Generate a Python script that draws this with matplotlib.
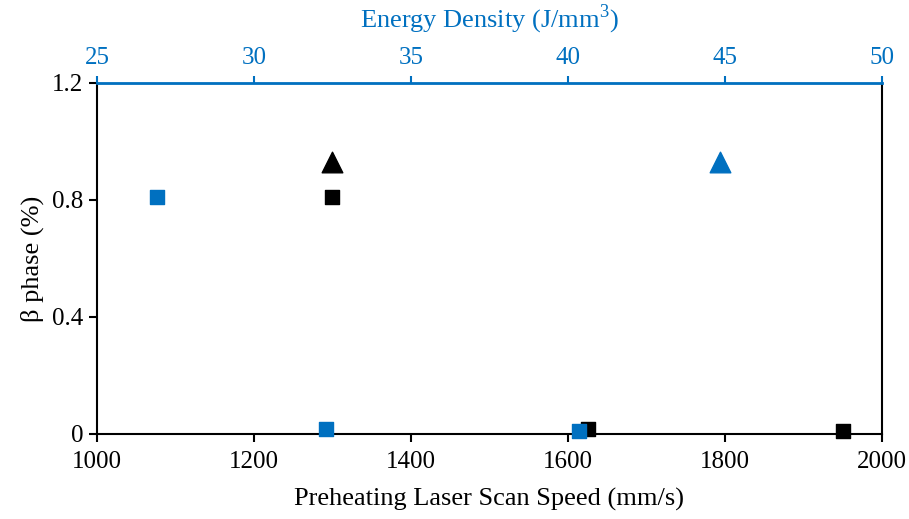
import matplotlib
matplotlib.use("Agg")
import matplotlib.pyplot as plt

plt.rcParams['font.family'] = ['Liberation Serif', 'DejaVu Serif']
plt.rcParams['font.size'] = 18
plt.rcParams['mathtext.fontset'] = 'custom'
plt.rcParams['mathtext.rm'] = 'Liberation Serif'

BLUE = '#0070C0'

# black series: preheating laser scan speed (mm/s)
speed_sq = [1300, 1625, 1950]
beta_speed_sq = [0.81, 0.017, 0.01]
speed_tri = [1300]
beta_speed_tri = [0.93]

# blue series: energy density (J/mm3)
energy_sq = [26.9, 32.3, 40.35]
beta_energy_sq = [0.81, 0.017, 0.01]
energy_tri = [44.85]
beta_energy_tri = [0.93]

fig = plt.figure(figsize=(9.09, 5.19), dpi=100)
ax = fig.add_axes([0.1067, 0.1638, 0.8636, 0.6763])

ax.scatter(speed_sq, beta_speed_sq, marker='s', s=110, color='black', clip_on=False, zorder=3)
ax.scatter(speed_tri, beta_speed_tri, marker='^', s=220, color='black', clip_on=False, zorder=3)
ax.set_xlim(1000, 2000)
ax.set_ylim(0, 1.2)
ax.set_xticks([1000, 1200, 1400, 1600, 1800, 2000])
ax.set_yticks([0, 0.4, 0.8, 1.2])
ax.set_yticklabels(['0', '0.4', '0.8', '1.2'])
ax.set_xlabel('Preheating Laser Scan Speed (mm/s)', fontsize=19, labelpad=11)
ax.set_ylabel('β phase (%)', fontsize=19, labelpad=6)
ax.tick_params(axis='x', direction='out', length=6, width=1.5, pad=6)
ax.tick_params(axis='y', direction='out', length=6, width=1.5, pad=4)
for side in ['left', 'bottom', 'right']:
    ax.spines[side].set_linewidth(1.5)

ax2 = ax.twiny()
ax2.scatter(energy_sq, beta_energy_sq, marker='s', s=110, color=BLUE, clip_on=False, zorder=4)
ax2.scatter(energy_tri, beta_energy_tri, marker='^', s=220, color=BLUE, clip_on=False, zorder=4)
ax2.set_xlim(25, 50)
ax2.set_xticks([25, 30, 35, 40, 45, 50])
ax2.set_xlabel('Energy Density (J/mm$^{3}$)', color=BLUE, fontsize=19, labelpad=14)
ax2.tick_params(axis='x', colors=BLUE, direction='out', length=5, width=1.5, pad=5)
ax2.spines['top'].set_color(BLUE)
ax2.spines['top'].set_linewidth(2)
for side in ['left', 'bottom', 'right']:
    ax2.spines[side].set_visible(False)

fig.savefig('out.png', dpi=100)
